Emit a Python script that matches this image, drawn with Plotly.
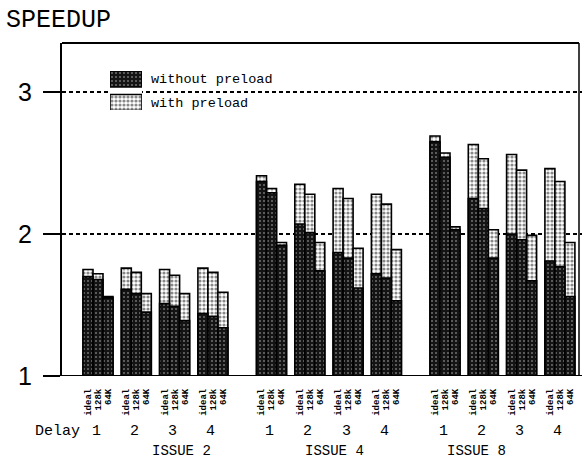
import plotly.graph_objects as go

# ---------------- data ----------------
issues = ["ISSUE 2", "ISSUE 4", "ISSUE 8"]
delays = ["1", "2", "3", "4"]
caches = ["ideal", "128k", "64K"]

# speedup without preload  [delay][cache]
issue2_without = [[1.70, 1.68, 1.55], [1.61, 1.58, 1.45], [1.51, 1.49, 1.39], [1.44, 1.42, 1.34]]
issue4_without = [[2.37, 2.29, 1.92], [2.07, 2.01, 1.74], [1.87, 1.83, 1.62], [1.72, 1.69, 1.53]]
issue8_without = [[2.65, 2.54, 2.03], [2.25, 2.18, 1.83], [2.00, 1.96, 1.67], [1.81, 1.77, 1.56]]
# speedup with preload  [delay][cache]
issue2_with = [[1.75, 1.72, 1.56], [1.76, 1.73, 1.58], [1.75, 1.71, 1.58], [1.76, 1.73, 1.59]]
issue4_with = [[2.41, 2.32, 1.94], [2.35, 2.28, 1.94], [2.32, 2.25, 1.90], [2.28, 2.21, 1.89]]
issue8_with = [[2.69, 2.57, 2.05], [2.63, 2.53, 2.03], [2.56, 2.45, 1.99], [2.46, 2.37, 1.94]]

y_ticks = [1, 2, 3]
series_names = ["without preload", "with preload"]

without_all = [issue2_without, issue4_without, issue8_without]
with_all = [issue2_with, issue4_with, issue8_with]

# ---------------- layout geometry ----------------
W, H = 582, 459
ML, MR, MT, MB = 62, 3, 43, 83
PW = W - ML - MR
PH = H - MT - MB
X_RANGE = [0, 51.7]
Y_RANGE = [1, 3.345]
FIRST = 2.6      # centre of first bar (in bar-width units)
DELAY_PITCH = 3.83
ISSUE_PITCH = 17.35


def px_x(px):
    return (px - ML) / PW


def px_y(py):
    return (H - MB - py) / PH


xs, wo, wi, tickvals, ticktext = [], [], [], [], []
group_centers = []
for i, _ in enumerate(issues):
    for d, _ in enumerate(delays):
        start = FIRST + i * ISSUE_PITCH + d * DELAY_PITCH
        group_centers.append((start + 1, delays[d]))
        for c, cname in enumerate(caches):
            xs.append(start + c)
            wo.append(without_all[i][d][c])
            wi.append(with_all[i][d][c])
            tickvals.append(start + c)
            ticktext.append(cname)

dark_pattern = dict(shape=".", bgcolor="#141414", fgcolor="#d0d0d0", size=4, solidity=0.2)
light_pattern = dict(shape=".", bgcolor="#ffffff", fgcolor="#111111", size=4, solidity=0.5)
outline = dict(color="black", width=1.6)

fig = go.Figure()
fig.add_trace(go.Bar(
    x=xs, y=[v - 1 for v in wi], base=1, width=1.0, name=series_names[1],
    marker=dict(color="white", pattern=light_pattern, line=outline),
    showlegend=False, hoverinfo="skip"))
fig.add_trace(go.Bar(
    x=xs, y=[v - 1 for v in wo], base=1, width=1.0, name=series_names[0],
    marker=dict(color="#141414", pattern=dark_pattern, line=outline),
    showlegend=False, hoverinfo="skip"))

# legend swatches drawn as bars on a small hidden axis
fig.add_trace(go.Bar(
    x=[1], y=[1], base=0, width=0.68, orientation="h", xaxis="x2", yaxis="y2",
    marker=dict(color="#141414", pattern=dark_pattern, line=outline),
    showlegend=False, hoverinfo="skip"))
fig.add_trace(go.Bar(
    x=[1], y=[0], base=0, width=0.68, orientation="h", xaxis="x2", yaxis="y2",
    marker=dict(color="white", pattern=light_pattern, line=outline),
    showlegend=False, hoverinfo="skip"))

mono = "Liberation Mono"

shapes = []
for yv in [2, 3]:
    shapes.append(dict(type="line", xref="paper", yref="y", x0=0, x1=px_x(582), y0=yv, y1=yv,
                       line=dict(color="black", width=2.2, dash="4px,3px"), layer="below"))
# bottom baseline (extends past the frame)
shapes.append(dict(type="line", xref="paper", yref="y", x0=px_x(45), x1=px_x(582), y0=1, y1=1,
                   line=dict(color="black", width=2), layer="above"))
# top and right frame lines
shapes.append(dict(type="line", xref="paper", yref="paper", x0=0, x1=1, y0=1, y1=1,
                   line=dict(color="black", width=2)))
shapes.append(dict(type="line", xref="paper", yref="paper", x0=1, x1=1, y0=0, y1=1,
                   line=dict(color="black", width=1.5)))

annotations = []
annotations.append(dict(text="SPEEDUP", xref="paper", yref="paper", x=px_x(4), y=px_y(21),
                        xanchor="left", yanchor="middle", showarrow=False,
                        font=dict(family=mono, size=25, color="black")))
annotations.append(dict(text=series_names[0], xref="paper", yref="paper", x=px_x(149), y=px_y(79),
                        xanchor="left", yanchor="middle", showarrow=False,
                        font=dict(family=mono, size=13.5, color="black")))
annotations.append(dict(text=series_names[1], xref="paper", yref="paper", x=px_x(149), y=px_y(103),
                        xanchor="left", yanchor="middle", showarrow=False,
                        font=dict(family=mono, size=13.5, color="black")))
annotations.append(dict(text="Delay", xref="paper", yref="paper", x=px_x(57), y=px_y(431),
                        xanchor="center", yanchor="middle", showarrow=False,
                        font=dict(family=mono, size=15, color="black")))
for gx, lab in group_centers:
    annotations.append(dict(text=lab, xref="x", yref="paper", x=gx - 0.2, y=px_y(431),
                            xanchor="center", yanchor="middle", showarrow=False,
                            font=dict(family=mono, size=15, color="black")))
for px_c, lab in zip([181, 334, 476], issues):
    annotations.append(dict(text=lab, xref="paper", yref="paper", x=px_x(px_c), y=px_y(451),
                            xanchor="center", yanchor="middle", showarrow=False,
                            font=dict(family=mono, size=14, color="black")))

fig.update_layout(
    width=W, height=H, autosize=False,
    margin=dict(l=ML, r=MR, t=MT, b=MB),
    paper_bgcolor="white", plot_bgcolor="white",
    barmode="overlay", bargap=0,
    shapes=shapes, annotations=annotations,
    xaxis=dict(range=X_RANGE, domain=[0, 1], showgrid=False, zeroline=False, showline=False,
               tickmode="array", tickvals=tickvals, ticktext=ticktext, tickangle=-90,
               ticks="", ticklabelstandoff=10,
               tickfont=dict(family=mono, size=9, color="black", weight="bold")),
    yaxis=dict(range=Y_RANGE, domain=[0, 1], showgrid=False, zeroline=False,
               showline=True, linecolor="black", linewidth=2,
               tickmode="array", tickvals=y_ticks, ticktext=[str(t) for t in y_ticks],
               ticks="outside", ticklen=17, tickwidth=1.5, tickcolor="black",
               ticklabelstandoff=6,
               tickfont=dict(family="Liberation Sans", size=25, color="black")),
    xaxis2=dict(domain=[px_x(110), px_x(142)], anchor="y2", range=[0, 1], visible=False),
    yaxis2=dict(domain=[px_y(110), px_y(71)], anchor="x2", range=[-0.32, 1.34], visible=False),
)

fig.write_html("out.html", config={"displayModeBar": False, "staticPlot": True},
               post_script="document.body.style.margin='0';document.body.style.overflow='hidden';")
